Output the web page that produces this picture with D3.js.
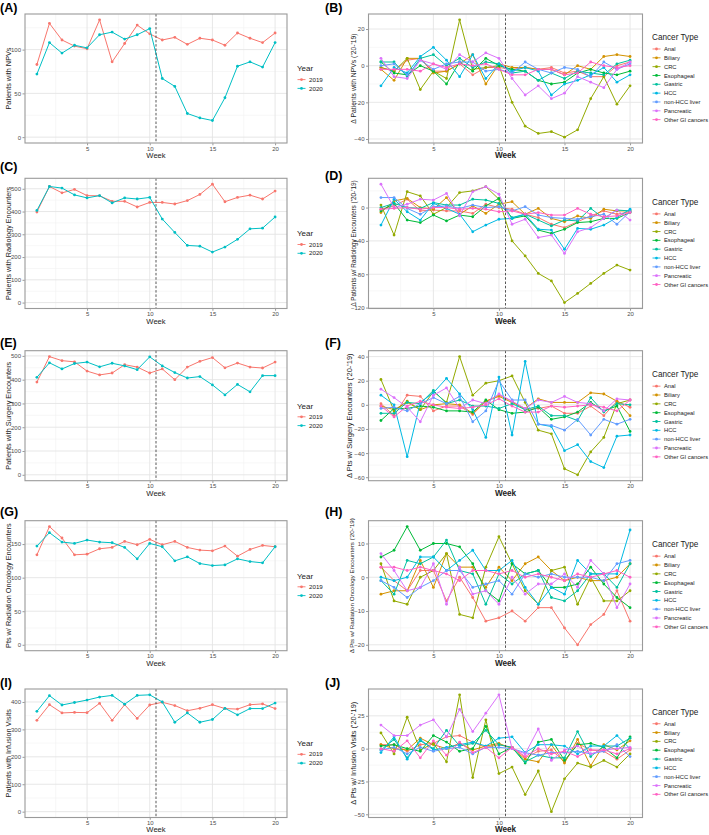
<!DOCTYPE html>
<html>
<head>
<meta charset="utf-8">
<script src="https://cdn.jsdelivr.net/npm/d3@7/dist/d3.min.js"></script>
<style>
  html, body { margin: 0; padding: 0; background: #fff; }
  svg { display: block; font-family: "Liberation Sans", Arial, Helvetica, sans-serif; }
</style>
</head>
<body>
<svg id="chart" width="709" height="835"></svg>
<script>
// ---------------- DATA ----------------
const weeks = [1,2,3,4,5,6,7,8,9,10,11,12,13,14,15,16,17,18,19,20];
const years = ["2019", "2020"];
const yearColors = ["#F8766D", "#00BFC4"];
const cancerTypes = ["Anal","Biliary","CRC","Esophageal","Gastric","HCC","non-HCC liver","Pancreatic","Other GI cancers"];
const cancerColors = ["#F8766D","#D39200","#93AA00","#00BA38","#00C19F","#00B9E3","#619CFF","#DB72FB","#FF61C3"];
const xTicks = [5, 10, 15, 20];
const cutoffWeek = 10.5;

// (A) Patients with NPVs
const npv2019 = [83,130,111,104,101,134,86,107,128,118,111,114,106,113,111,105,119,113,108,119];
const npv2020 = [72,108,96,105,102,117,120,112,117,124,67,58,27,22,19,45,81,86,80,108];
const npvTicks = [0, 50, 100];
// (B) delta NPVs by cancer type (order = cancerTypes)
const npvDelta = [
  [-1,-3,3,4,-3,-3,1,-5,-1,-1,-2,-1,-2,-1,-4,-3,-6,-6,0,2],
  [-2,-8,4,4,-4,-3,1,6,-10,1,-1,-1,-2,-2,-5,0,-2,5,6,5],
  [-1,-3,4,-13,-3,-7,25,-2,-1,0,-20,-33,-37,-36,-39,-35,-18,-6,-21,-11],
  [2,-4,-5,0,-3,-10,2,-3,4,0,-2,-3,-8,-10,-9,-4,-2,-4,-5,-3],
  [2,2,-6,4,6,0,4,-1,2,1,-4,-3,-8,-4,-7,-3,-4,-5,1,3],
  [-11,-1,-4,5,10,3,-6,6,-7,1,-3,-1,-3,-16,-10,-8,-5,-1,-9,-5],
  [0,1,-5,3,-2,1,2,2,-3,-2,-4,2,-2,-4,-1,-2,-6,2,-2,1],
  [4,-6,-7,3,1,-2,6,2,7,4,-7,-16,-11,-18,-15,-6,-9,-12,-2,2],
  [-2,-2,-2,-3,1,-1,1,0,1,-2,-5,-5,-2,-2,-5,-4,2,0,-1,0]
];
const npvDeltaTicks = [-40, -20, 0, 20];

// (C) Radiology
const rad2019 = [398,510,482,497,470,469,445,445,420,440,440,433,448,475,520,443,462,472,455,490];
const rad2020 = [405,510,503,473,460,470,438,460,455,462,367,308,251,248,222,244,278,324,327,376];
const radTicks = [0, 100, 200, 300, 400, 500];
// (D)
const radDelta = [
  [-2,2,10,-4,-3,-4,-4,-7,4,0,-2,-8,-12,-20,-24,-17,-10,-4,-8,-5],
  [-6,8,11,0,-2,12,-8,2,-7,4,7,-8,-1,-13,-17,-10,-13,-2,-4,-4],
  [3,-33,19,14,-8,0,18,20,25,10,-40,-58,-79,-88,-114,-103,-91,-79,-69,-75],
  [-4,5,-15,-18,-9,-16,-9,-11,2,11,-13,-10,-27,-31,-26,-18,-17,-13,-13,-6],
  [0,5,0,-1,6,3,3,10,9,5,-12,-8,-15,-22,-15,-16,-1,-13,-3,-4],
  [-21,10,-5,-15,5,-1,-8,-29,-21,-14,-13,-8,-26,-27,-50,-25,-26,-21,-12,-2],
  [12,12,-1,-8,1,2,-1,3,0,1,-4,1,-9,-12,-13,-14,-11,-8,-20,-5],
  [28,0,4,10,9,17,-10,19,25,16,-20,-14,-36,-33,-55,-29,-24,-13,-3,-15],
  [-2,-1,0,-2,0,0,-2,-1,-2,-5,-4,-8,-6,-9,-9,-1,-8,-11,-10,-6]
];
const radDeltaTicks = [-120, -80, -40, 0];

// (E) Surgery
const surg2019 = [390,497,480,475,436,420,428,463,453,428,445,400,453,477,493,450,470,453,449,474];
const surg2020 = [410,471,445,468,474,454,469,458,442,496,458,430,407,413,378,336,380,349,417,417];
const surgTicks = [0, 100, 200, 300, 400, 500];
// (F)
const surgDelta = [
  [1,-9,8,7,-5,-1,-1,-8,3,8,3,-4,-3,-1,-7,-7,-1,-9,3,-2],
  [-1,-4,2,-4,0,1,0,-7,3,7,2,-3,5,2,2,2,10,9,3,-9],
  [21,-5,3,-4,11,2,40,8,18,20,24,2,-21,-24,-53,-58,-39,-27,1,4],
  [-13,-3,-3,-1,-2,-5,-5,-6,4,-4,-7,-6,-2,-12,-10,-6,2,-5,-1,-22],
  [-7,-7,2,1,12,1,4,-1,-1,-3,1,-4,-1,-9,-9,-13,6,-6,1,0],
  [8,0,-43,2,10,22,9,-4,-27,23,-25,36,-16,-18,-38,-33,-47,-52,-26,-25],
  [-3,-2,-5,1,6,1,7,-14,-5,20,4,4,-16,-17,-21,-12,-25,-12,-16,-12],
  [13,6,-2,-14,8,14,-3,4,1,9,3,-3,4,2,7,2,1,-5,5,4],
  [-1,-10,-1,3,0,-2,-3,-2,0,5,-1,-6,-6,-1,-2,-1,0,-2,-5,4]
];
const surgDeltaTicks = [-60, -40, -20, 0, 20, 40];

// (G) Radiation oncology
const ro2019 = [134,176,159,134,135,143,145,154,149,157,149,154,145,141,140,147,132,142,148,146];
const ro2020 = [147,167,153,151,156,153,152,145,128,151,146,125,131,121,118,119,128,124,122,146];
const roTicks = [0, 50, 100, 150];
// (H)
const roDelta = [
  [3,-1,-4,2,2,-7,0,-6,-13,-12,-10,-13,-9,-9,-15,-20,-14,-11,-4,-13],
  [-5,-4,-4,5,-3,7,3,3,-3,3,-1,4,6,2,-1,0,-1,-1,0,4],
  [4,-7,-8,0,2,7,-11,-12,3,12,4,-4,-8,2,3,-8,0,-7,-7,-4],
  [6,8,15,8,10,10,9,4,-4,-7,4,1,2,-3,-3,-2,3,-2,-6,-9],
  [-1,-5,5,4,6,11,2,1,-8,1,-2,1,2,-6,-7,-4,1,1,-3,4],
  [0,-1,0,6,6,2,5,8,2,2,5,-3,-8,-3,-5,5,1,1,1,14],
  [-1,-3,-6,-3,-1,2,2,-3,-2,-1,-5,1,0,1,0,0,0,-1,4,5],
  [7,2,-4,-3,4,-8,3,-5,-4,-8,0,-5,-2,-2,1,-3,5,1,-9,-2],
  [3,3,2,3,2,1,-1,2,2,1,2,0,1,0,-1,1,0,1,2,0]
];
const roDeltaTicks = [-20, -10, 0, 10];

// (I) Infusion
const inf2019 = [333,390,360,362,361,395,333,390,340,389,399,387,368,377,390,376,374,390,393,376];
const inf2020 = [366,423,389,398,407,418,424,392,424,426,400,326,360,326,336,377,353,376,376,396];
const infTicks = [0, 100, 200, 300, 400];
// (J)
const infDelta = [
  [3,3,-2,3,4,9,10,5,1,3,1,-7,-2,-1,-10,4,-1,-2,-8,-1],
  [3,0,-1,8,3,0,4,-1,2,4,0,-8,-10,3,-11,7,-13,3,-1,6],
  [12,-4,24,-1,4,-10,41,-22,22,-19,-14,-35,-17,-48,-23,-11,-14,-9,-14,-4],
  [2,3,0,-2,10,5,-2,0,17,-4,1,-11,5,7,-9,3,4,1,-7,9],
  [-1,7,-7,6,0,14,2,4,14,3,1,-10,-5,-7,-7,13,-6,2,2,8],
  [-3,9,-8,7,-1,1,3,5,2,8,9,-3,3,3,2,-4,2,2,10,0],
  [-1,1,-4,1,-2,0,1,-4,1,1,0,-3,-5,-3,-3,-2,-4,-2,3,-6],
  [18,10,10,18,22,9,30,13,27,41,0,-4,15,-9,-1,2,-4,-1,0,1],
  [0,-2,6,-7,6,-5,5,-3,1,-7,1,-6,0,-4,-2,-6,-1,-1,-4,0]
];
const infDeltaTicks = [-50, -25, 0, 25];

// ---------------- LAYOUT ----------------
const svg = d3.select("#chart");
svg.append("rect").attr("width", 709).attr("height", 835).attr("fill", "#fff");

const leftCol = { L: 25, R: 287, tagX: 0, legendX: 297 };
const rightCol = { L: 368.5, R: 642.5, tagX: 325, legendX: 652 };
const rows = [
  { T: 14, B: 143, tagL: 12, tagR: 12, wk: 15 },
  { T: 178.3, B: 308.5, tagL: 171, tagR: 180, wk: 15 },
  { T: 350.7, B: 480.7, tagL: 347, tagR: 347, wk: 15 },
  { T: 520.7, B: 650.7, tagL: 516, tagR: 516, wk: 15 },
  { T: 689, B: 817.5, tagL: 687, tagR: 687, wk: 14.8 }
];

const panels = [
  { tag: "(A)", col: leftCol, row: 0, kind: "year", series: [npv2019, npv2020], ticks: npvTicks, ylab: "Patients with NPVs", yfs: 7.3, ylx: 11 },
  { tag: "(B)", col: rightCol, row: 0, kind: "cancer", series: npvDelta, ticks: npvDeltaTicks, ylab: "\u0394 Patients with NPVs ('20-'19)", yfs: 6.8, ylx: 356 },
  { tag: "(C)", col: leftCol, row: 1, kind: "year", series: [rad2019, rad2020], ticks: radTicks, ylab: "Patients with Radiology Encounters", yfs: 7.2, ylx: 11 },
  { tag: "(D)", col: rightCol, row: 1, kind: "cancer", series: radDelta, ticks: radDeltaTicks, ylab: "\u0394 Patients w/ Radiology Encounters ('20-'19)", yfs: 6.4, ylx: 355.5 },
  { tag: "(E)", col: leftCol, row: 2, kind: "year", series: [surg2019, surg2020], ticks: surgTicks, ylab: "Patients with Surgery Encounters", yfs: 7.3, ylx: 11 },
  { tag: "(F)", col: rightCol, row: 2, kind: "cancer", series: surgDelta, ticks: surgDeltaTicks, ylab: "\u0394 Pts w/ Surgery Encounters ('20-'19)", yfs: 7.5, ylx: 352 },
  { tag: "(G)", col: leftCol, row: 3, kind: "year", series: [ro2019, ro2020], ticks: roTicks, ylab: "Pts w/ Radiation Oncology Encounters", yfs: 7.3, ylx: 11 },
  { tag: "(H)", col: rightCol, row: 3, kind: "cancer", series: roDelta, ticks: roDeltaTicks, ylab: "\u0394 Pts w/ Radiation Oncology Encounters ('20-'19)", yfs: 6.2, ylx: 354 },
  { tag: "(I)", col: leftCol, row: 4, kind: "year", series: [inf2019, inf2020], ticks: infTicks, ylab: "Patients with Infusion Visits", yfs: 7.3, ylx: 11 },
  { tag: "(J)", col: rightCol, row: 4, kind: "cancer", series: infDelta, ticks: infDeltaTicks, ylab: "\u0394 Pts w/ Infusion Visits ('20-'19)", yfs: 7.4, ylx: 356 }
];

function minorBreaks(majors, domain) {
  const out = [];
  const step = majors[1] - majors[0];
  const ext = [majors[0] - step].concat(majors, [majors[majors.length - 1] + step]);
  for (let i = 0; i < ext.length - 1; i++) {
    const m = (ext[i] + ext[i + 1]) / 2;
    if (m > domain[0] && m < domain[1]) out.push(m);
  }
  return out;
}

function drawPanel(p) {
  const c = p.col, r = rows[p.row];
  const isLeft = c === leftCol;
  const g = svg.append("g");

  const x = d3.scaleLinear().domain([0.05, 20.95]).range([c.L, c.R]);
  const all = p.series.flat();
  let lo = d3.min(all), hi = d3.max(all);
  if (p.kind === "year") lo = Math.min(0, lo);
  const pad = (hi - lo) * 0.05;
  const yDom = [lo - pad, hi + pad];
  const y = d3.scaleLinear().domain(yDom).range([r.B, r.T]);

  // minor grid
  const xMinor = minorBreaks(xTicks, x.domain());
  const yMinor = minorBreaks(p.ticks, yDom);
  g.selectAll(".xmin").data(xMinor).join("line")
    .attr("x1", d => x(d)).attr("x2", d => x(d)).attr("y1", r.T).attr("y2", r.B)
    .attr("stroke", "#F2F2F2").attr("stroke-width", 0.6);
  g.selectAll(".ymin").data(yMinor).join("line")
    .attr("x1", c.L).attr("x2", c.R).attr("y1", d => y(d)).attr("y2", d => y(d))
    .attr("stroke", "#F2F2F2").attr("stroke-width", 0.6);
  // major grid
  g.selectAll(".xmaj").data(xTicks).join("line")
    .attr("x1", d => x(d)).attr("x2", d => x(d)).attr("y1", r.T).attr("y2", r.B)
    .attr("stroke", "#E4E4E4").attr("stroke-width", 0.9);
  g.selectAll(".ymaj").data(p.ticks).join("line")
    .attr("x1", c.L).attr("x2", c.R).attr("y1", d => y(d)).attr("y2", d => y(d))
    .attr("stroke", "#E4E4E4").attr("stroke-width", 0.9);

  // series
  const colors = p.kind === "year" ? yearColors : cancerColors;
  const line = d3.line().x((d, i) => x(weeks[i])).y(d => y(d));
  p.series.forEach((s, si) => {
    g.append("path").datum(s).attr("d", line)
      .attr("fill", "none").attr("stroke", colors[si]).attr("stroke-width", 1);
    g.selectAll(null).data(s).join("circle")
      .attr("cx", (d, i) => x(weeks[i])).attr("cy", d => y(d)).attr("r", 1.4)
      .attr("fill", colors[si]);
  });

  // dashed cutoff line
  g.append("line")
    .attr("x1", x(cutoffWeek)).attr("x2", x(cutoffWeek)).attr("y1", r.T).attr("y2", r.B)
    .attr("stroke", "#3a3a3a").attr("stroke-width", 0.85).attr("stroke-dasharray", "2.5,1.8");

  // border
  g.append("rect").attr("x", c.L).attr("y", r.T).attr("width", c.R - c.L).attr("height", r.B - r.T)
    .attr("fill", "none").attr("stroke", "#9a9a9a").attr("stroke-width", 1.1);

  // axes
  const yAxis = d3.axisLeft(y).tickValues(p.ticks).tickSize(2).tickPadding(1.5).tickFormat(d3.format("d"));
  const ya = g.append("g").attr("transform", `translate(${c.L - 0.5},0)`).call(yAxis);
  const xAxis = d3.axisBottom(x).tickValues(xTicks).tickSize(1.8).tickPadding(1.2);
  const xa = g.append("g").attr("transform", `translate(0,${r.B + 0.5})`).call(xAxis);
  [ya, xa].forEach(a => {
    a.select(".domain").remove();
    a.selectAll(".tick line").attr("stroke", "#555").attr("stroke-width", 0.6);
    a.selectAll(".tick text").attr("fill", "#4D4D4D").style("font-size", "6px")
      .style("font-family", "'Liberation Sans', Arial, sans-serif");
  });

  // axis titles
  g.append("text").attr("x", (c.L + c.R) / 2).attr("y", r.B + r.wk)
    .attr("text-anchor", "middle")
    .style("font-size", isLeft ? "7.6px" : "8.2px")
    .style("font-weight", isLeft ? "normal" : "bold")
    .attr("fill", "#222").text("Week");
  g.append("text")
    .attr("transform", `translate(${p.ylx},${(r.T + r.B) / 2}) rotate(-90)`)
    .attr("text-anchor", "middle")
    .style("font-size", p.yfs + "px")
    .attr("fill", "#222").text(p.ylab);

  // panel tag
  g.append("text").attr("x", c.tagX).attr("y", isLeft ? r.tagL : r.tagR)
    .style("font-size", "12.5px").style("font-weight", "bold").attr("fill", "#000").text(p.tag);

  // legend
  const names = p.kind === "year" ? years : cancerTypes;
  const step = p.kind === "year" ? 8.8 : 8.83;
  const titleGap = p.kind === "year" ? 11 : 11.6;
  const totalH = titleGap + (names.length - 1) * step;
  const mid = (r.T + r.B) / 2;
  const top = mid - totalH / 2;
  const lg = g.append("g");
  lg.append("text").attr("x", c.legendX).attr("y", top + 2.8)
    .style("font-size", p.kind === "year" ? "8px" : "8.2px").attr("fill", "#222")
    .text(p.kind === "year" ? "Year" : "Cancer Type");
  names.forEach((n, i) => {
    const yy = top + titleGap + i * step;
    lg.append("line").attr("x1", c.legendX + 0.5).attr("x2", c.legendX + 8.5)
      .attr("y1", yy).attr("y2", yy).attr("stroke", colors[i]).attr("stroke-width", 0.9);
    lg.append("circle").attr("cx", c.legendX + 4.5).attr("cy", yy).attr("r", 1.4).attr("fill", colors[i]);
    lg.append("text").attr("x", c.legendX + 12).attr("y", yy + 2.1)
      .style("font-size", p.kind === "year" ? "6.2px" : "5.8px").attr("fill", "#222").text(n);
  });
}

panels.forEach(drawPanel);
</script>
</body>
</html>
